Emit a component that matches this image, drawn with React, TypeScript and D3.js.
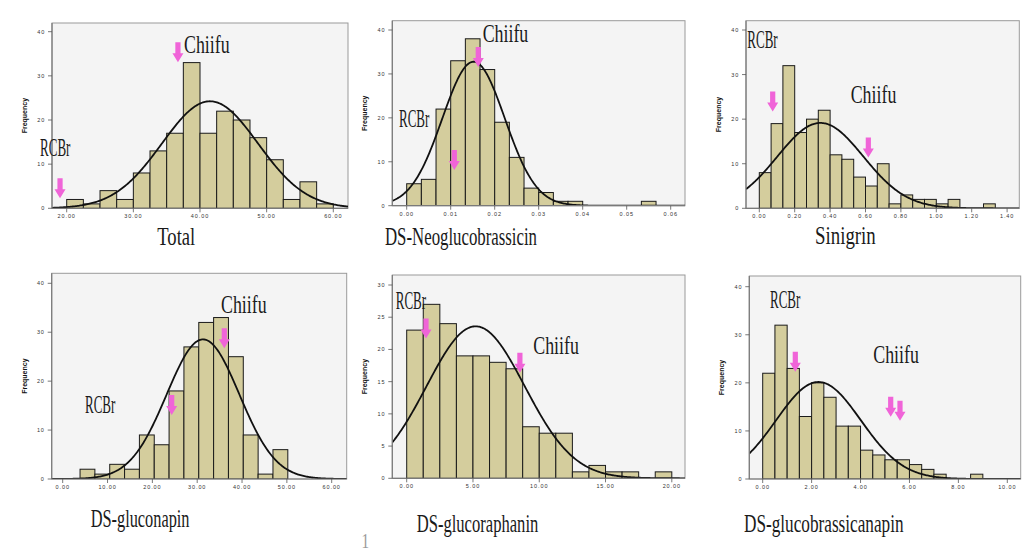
import React from 'react';
import * as d3 from 'd3';

// ---------- data ----------
const totalCounts = [2, 1, 4, 2, 8, 13, 17, 33, 17, 22, 20, 16, 11, 2, 6, 1];
const neoCounts = [5, 6, 22, 33, 38, 31, 19, 11, 4, 3, 1, 1, 0, 0, 0, 0, 1];
const sinigrinCounts = [8, 19, 32, 17, 20, 22, 12, 11, 7, 5, 10, 1, 3, 2, 2, 1, 2, 0, 0, 1];
const gluconapinCounts = [2, 1, 3, 2, 9, 7, 18, 27, 32, 33, 25, 9, 1, 6];
const glucoraphaninCounts = [23, 27, 24, 19, 19, 18, 17, 8, 7, 7, 1, 2, 1, 1, 0, 1];
const glucobrassicanapinCounts = [22, 32, 23, 13, 20, 17, 11, 11, 6, 5, 4, 4, 3, 2, 1, 0, 0, 1];

const totalXTicks = [20, 30, 40, 50, 60];
const neoXTicks = [0, 0.01, 0.02, 0.03, 0.04, 0.05, 0.06];
const sinigrinXTicks = [0, 0.2, 0.4, 0.6, 0.8, 1.0, 1.2, 1.4];
const gluconapinXTicks = [0, 10, 20, 30, 40, 50, 60];
const glucoraphaninXTicks = [0, 5, 10, 15, 20];
const glucobrassicanapinXTicks = [0, 2, 4, 6, 8, 10];

const yTicks40 = [0, 10, 20, 30, 40];
const yTicks30 = [0, 5, 10, 15, 20, 25, 30];

// bin start, bin width, fitted normal mean, sd
const totalFit = [20, 2.5, 41.5, 7.2];
const neoFit = [0, 0.01 / 3, 0.0152, 0.0071];
const sinigrinFit = [0, 1 / 15, 0.345, 0.243];
const gluconapinFit = [3.87, 3.31, 31.3, 8.1];
const glucoraphaninFit = [0, 1.25, 5.2, 3.7];
const glucobrassicanapinFit = [0, 0.5, 2.28, 1.73];

const titles = ['Total', 'DS-Neoglucobrassicin', 'Sinigrin', 'DS-gluconapin', 'DS-glucoraphanin', 'DS-glucobrassicanapin'];

// annotations in data units: arrows [x, tip frequency], labels [text, x, baseline frequency]
const totalArrows = [[36.69, 33.1], [19.0, 2.3]];
const totalLabels: [string, number, number][] = [['Chiifu', 37.6, 35.2], ['RCBr', 16.0, 11.8]];
const neoArrows = [[0.01627, 31.6], [0.01082, 8.1]];
const neoLabels: [string, number, number][] = [['Chiifu', 0.01727, 37.3], ['RCBr', -0.00175, 17.85]];
const sinigrinArrows = [[0.0757, 21.7], [0.616, 11.4]];
const sinigrinLabels: [string, number, number][] = [['RCBr', -0.0678, 35.9], ['Chiifu', 0.5164, 23.56]];
const gluconapinArrows = [[36.05, 26.7], [24.31, 13.1]];
const gluconapinLabels: [string, number, number][] = [['Chiifu', 35.31, 33.87], ['RCBr', 4.97, 13.43]];
const glucoraphaninArrows = [[1.455, 21.7], [8.54, 16.4]];
const glucoraphaninLabels: [string, number, number][] = [['RCBr', -0.83, 26.23], ['Chiifu', 9.55, 19.29]];
const glucobrassicanapinArrows = [[1.333, 22.3], [5.233, 12.96], [5.613, 12.13]];
const glucobrassicanapinLabels: [string, number, number][] = [['RCBr', 0.298, 35.5], ['Chiifu', 4.52, 24.19]];

// ---------- layout ----------
type Layout = { frame: [number, number, number, number]; xRange: [number, number]; yRange: [number, number]; title: [number, number] };
const layouts: Layout[] = [
  { frame: [52, 23, 348, 208.3], xRange: [66.7, 333.3], yRange: [208.3, 31.7], title: [157.3, 245] },
  { frame: [392.3, 20.7, 685, 205.7], xRange: [406.7, 670.7], yRange: [205.7, 30], title: [385, 245] },
  { frame: [746, 20.7, 1019.3, 208.3], xRange: [759.3, 1007.1], yRange: [208.3, 30], title: [815, 244] },
  { frame: [51.7, 273.3, 346.7, 479], xRange: [62.7, 331.7], yRange: [479, 283.3], title: [90.7, 527] },
  { frame: [392.3, 275, 685, 478.3], xRange: [406.7, 671.8], yRange: [478.3, 285], title: [416.7, 532] },
  { frame: [749.3, 276, 1020.7, 479], xRange: [762.7, 1007.3], yRange: [479, 286.7], title: [744, 532] },
];

const panelData = [
  { counts: totalCounts, xTicks: totalXTicks, yTicks: yTicks40, fit: totalFit, arrows: totalArrows, labels: totalLabels },
  { counts: neoCounts, xTicks: neoXTicks, yTicks: yTicks40, fit: neoFit, arrows: neoArrows, labels: neoLabels },
  { counts: sinigrinCounts, xTicks: sinigrinXTicks, yTicks: yTicks40, fit: sinigrinFit, arrows: sinigrinArrows, labels: sinigrinLabels },
  { counts: gluconapinCounts, xTicks: gluconapinXTicks, yTicks: yTicks40, fit: gluconapinFit, arrows: gluconapinArrows, labels: gluconapinLabels },
  { counts: glucoraphaninCounts, xTicks: glucoraphaninXTicks, yTicks: yTicks30, fit: glucoraphaninFit, arrows: glucoraphaninArrows, labels: glucoraphaninLabels },
  { counts: glucobrassicanapinCounts, xTicks: glucobrassicanapinXTicks, yTicks: yTicks40, fit: glucobrassicanapinFit, arrows: glucobrassicanapinArrows, labels: glucobrassicanapinLabels },
];

const BAR_FILL = '#d4cd9d';
const PINK = '#f064d8';
const LABEL_FONT = "'Liberation Serif', 'DejaVu Serif', serif";
const TICK_FONT = "'Liberation Sans', Arial, sans-serif";
const CHAR_W = 7.6;

function StretchText({ x, y, text, size = 19, sy = 1.3, fill = '#1a1a1a' }: any) {
  return (
    <text
      transform={`translate(${x},${y}) scale(1,${sy})`}
      fontFamily={LABEL_FONT}
      fontSize={size}
      fill={fill}
      textLength={text.length * CHAR_W}
      lengthAdjust="spacingAndGlyphs"
    >
      {text}
    </text>
  );
}

function Arrow({ x, y }: { x: number; y: number }) {
  const L = 20, hh = 9, hw = 5.5, sw = 2.6;
  const d = `M${x - sw},${y - L}L${x + sw},${y - L}L${x + sw},${y - hh}L${x + hw},${y - hh}L${x},${y}L${x - hw},${y - hh}L${x - sw},${y - hh}Z`;
  return <path d={d} fill={PINK} />;
}

function Panel({ idx }: { idx: number }) {
  const lay = layouts[idx];
  const pd = panelData[idx];
  const [fl, ft, fr, fb] = lay.frame;
  const xt = pd.xTicks;
  const yt = pd.yTicks;
  const x = d3.scaleLinear().domain([xt[0], xt[xt.length - 1]]).range(lay.xRange);
  const y = d3.scaleLinear().domain([0, yt[yt.length - 1]]).range(lay.yRange);
  const [bStart, bw, mu, sd] = pd.fit;
  const N = d3.sum(pd.counts);
  const lo = x.invert(fl), hi = x.invert(fr);
  const pts = d3.range(0, 301).map((i) => lo + ((hi - lo) * i) / 300);
  const dens = (v: number) => (N * bw * Math.exp(-0.5 * ((v - mu) / sd) ** 2)) / (sd * Math.sqrt(2 * Math.PI));
  const line = d3.line<number>().x((v) => x(v)).y((v) => y(dens(v))).curve(d3.curveLinear);
  const clipId = `clip${idx}`;
  const fmt = d3.format('.2f');
  return (
    <g>
      <defs>
        <clipPath id={clipId}>
          <rect x={fl} y={ft} width={fr - fl} height={fb - ft} />
        </clipPath>
      </defs>
      <rect x={fl} y={ft} width={fr - fl} height={fb - ft} fill="#f4f4f4" stroke="#9a9a9a" strokeWidth={1} />
      <g clipPath={`url(#${clipId})`}>
        {pd.counts.map((c, i) => {
          if (c <= 0) return null;
          const x0 = x(bStart + i * bw), x1 = x(bStart + (i + 1) * bw);
          return <rect key={i} x={x0} y={y(c)} width={x1 - x0} height={y(0) - y(c)} fill={BAR_FILL} stroke="#1a1a1a" strokeWidth={1} />;
        })}
        <path d={line(pts) || ''} fill="none" stroke="#111" strokeWidth={1.8} />
      </g>
      <line x1={fl} x2={fl} y1={ft} y2={fb} stroke="#7a7a7a" strokeWidth={1.2} />
      <line x1={fl} x2={fr} y1={fb} y2={fb} stroke="#7a7a7a" strokeWidth={1.2} />
      {yt.map((t) => (
        <g key={'y' + t}>
          <line x1={fl - 4} x2={fl} y1={y(t)} y2={y(t)} stroke="#555" strokeWidth={0.8} />
          <text x={fl - 7} y={y(t) + 2} textAnchor="end" fontFamily={TICK_FONT} fontSize={5.5} fill="#333" letterSpacing={0.8}>
            {t}
          </text>
        </g>
      ))}
      {xt.map((t) => (
        <g key={'x' + t}>
          <line x1={x(t)} x2={x(t)} y1={fb} y2={fb + 4} stroke="#555" strokeWidth={0.8} />
          <text x={x(t)} y={fb + 10} textAnchor="middle" fontFamily={TICK_FONT} fontSize={5.5} fill="#333" letterSpacing={0.9}>
            {fmt(t)}
          </text>
        </g>
      ))}
      <text
        transform={`translate(${fl - 25},${(ft + fb) / 2}) rotate(-90)`}
        textAnchor="middle"
        fontFamily={TICK_FONT}
        fontSize={7}
        fontWeight="bold"
        fill="#111"
      >
        Frequency
      </text>
      {pd.arrows.map((a, i) => (
        <Arrow key={'a' + i} x={x(a[0])} y={y(a[1])} />
      ))}
      {pd.labels.map((l, i) => (
        <StretchText key={'l' + i} x={x(l[1])} y={y(l[2])} text={l[0]} />
      ))}
      <StretchText x={lay.title[0]} y={lay.title[1]} text={titles[idx]} />
    </g>
  );
}

export default function App() {
  return (
    <svg width={1030} height={555} style={{ position: 'absolute', left: 0, top: 0, background: '#fff' }}>
      <rect x={0} y={0} width={1030} height={555} fill="#fff" />
      {layouts.map((_, i) => (
        <Panel key={i} idx={i} />
      ))}
      <StretchText x={361.5} y={548} text="1" fill="#9a9a9a" sy={1.1} />
    </svg>
  );
}
